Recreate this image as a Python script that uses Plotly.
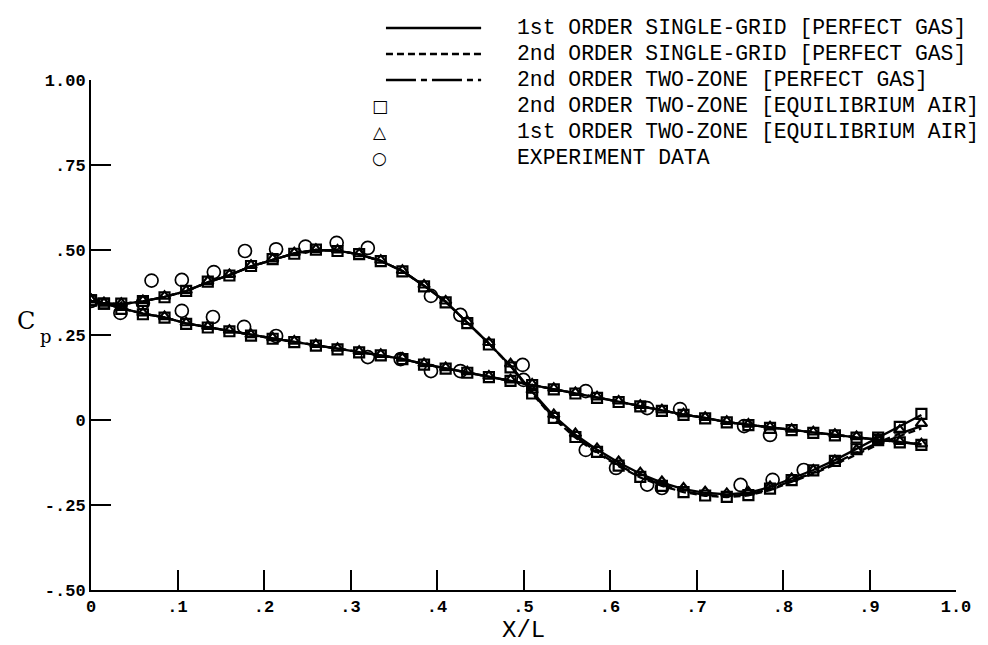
import plotly.graph_objects as go

# ---------------- data ----------------
x_grid = [0.0, 0.015, 0.035, 0.06, 0.085, 0.11, 0.135, 0.16, 0.185, 0.21,
          0.235, 0.26, 0.285, 0.31, 0.335, 0.36, 0.385, 0.41, 0.435, 0.46,
          0.485, 0.51, 0.535, 0.56, 0.585, 0.61, 0.635, 0.66, 0.685, 0.71,
          0.735, 0.76, 0.785, 0.81, 0.835, 0.86, 0.885, 0.91, 0.935, 0.96]

# 1st order single-grid, perfect gas
up_sg1 = [0.350, 0.343, 0.341, 0.349, 0.362, 0.379, 0.405, 0.426, 0.452, 0.472,
          0.490, 0.500, 0.498, 0.487, 0.468, 0.438, 0.395, 0.348, 0.288, 0.225,
          0.160, 0.083, 0.012, -0.043, -0.087, -0.125, -0.158, -0.184, -0.203, -0.214,
          -0.219, -0.214, -0.197, -0.173, -0.147, -0.118, -0.085, -0.050, -0.018, 0.015]
low_sg1 = [0.350, 0.343, 0.329, 0.313, 0.302, 0.284, 0.273, 0.262, 0.249, 0.240,
           0.230, 0.220, 0.209, 0.200, 0.191, 0.180, 0.164, 0.152, 0.140, 0.127,
           0.116, 0.104, 0.091, 0.079, 0.066, 0.054, 0.041, 0.028, 0.016, 0.006,
           -0.006, -0.014, -0.022, -0.029, -0.037, -0.044, -0.051, -0.058, -0.065, -0.072]

# 2nd order single-grid, perfect gas
up_sg2 = [0.350, 0.343, 0.341, 0.349, 0.362, 0.379, 0.405, 0.426, 0.452, 0.472,
          0.490, 0.500, 0.498, 0.487, 0.468, 0.438, 0.395, 0.348, 0.288, 0.225,
          0.158, 0.078, 0.004, -0.052, -0.097, -0.136, -0.169, -0.194, -0.212, -0.223,
          -0.227, -0.222, -0.206, -0.183, -0.158, -0.131, -0.102, -0.072, -0.047, -0.025]
low_sg2 = [0.350, 0.343, 0.329, 0.313, 0.302, 0.284, 0.273, 0.262, 0.249, 0.240,
           0.230, 0.220, 0.209, 0.200, 0.191, 0.180, 0.164, 0.152, 0.140, 0.127,
           0.116, 0.104, 0.091, 0.079, 0.066, 0.054, 0.041, 0.028, 0.016, 0.006,
           -0.006, -0.014, -0.022, -0.029, -0.037, -0.044, -0.051, -0.058, -0.065, -0.071]

# 2nd order two-zone, perfect gas
up_tz2 = [0.350, 0.343, 0.341, 0.349, 0.362, 0.379, 0.405, 0.426, 0.452, 0.472,
          0.490, 0.500, 0.498, 0.487, 0.468, 0.438, 0.395, 0.348, 0.288, 0.225,
          0.159, 0.080, 0.007, -0.049, -0.094, -0.133, -0.166, -0.191, -0.209, -0.220,
          -0.224, -0.219, -0.203, -0.180, -0.155, -0.127, -0.097, -0.066, -0.040, -0.018]
low_tz2 = [0.350, 0.343, 0.329, 0.313, 0.302, 0.284, 0.273, 0.262, 0.249, 0.240,
           0.230, 0.220, 0.209, 0.200, 0.191, 0.180, 0.164, 0.152, 0.140, 0.127,
           0.116, 0.104, 0.091, 0.079, 0.066, 0.054, 0.041, 0.028, 0.016, 0.006,
           -0.006, -0.014, -0.022, -0.029, -0.037, -0.044, -0.051, -0.058, -0.065, -0.072]

# 2nd order two-zone, equilibrium air (squares)
sq_up = [0.352, 0.342, 0.342, 0.350, 0.361, 0.380, 0.407, 0.425, 0.453, 0.473,
         0.489, 0.501, 0.497, 0.488, 0.467, 0.437, 0.393, 0.346, 0.285, 0.222,
         0.155, 0.078, 0.006, -0.050, -0.094, -0.134, -0.167, -0.194, -0.212, -0.222,
         -0.226, -0.221, -0.202, -0.177, -0.148, -0.120, -0.086, -0.052, -0.020, 0.018]
sq_low = [0.352, 0.342, 0.327, 0.311, 0.301, 0.283, 0.272, 0.261, 0.248, 0.239,
          0.229, 0.219, 0.208, 0.199, 0.190, 0.179, 0.163, 0.151, 0.139, 0.126,
          0.115, 0.103, 0.090, 0.078, 0.065, 0.053, 0.040, 0.027, 0.015, 0.005,
          -0.007, -0.015, -0.023, -0.030, -0.038, -0.045, -0.052, -0.059, -0.066, -0.073]

# 1st order two-zone, equilibrium air (triangles)
tri_up = [0.354, 0.344, 0.343, 0.351, 0.364, 0.381, 0.408, 0.428, 0.455, 0.474,
          0.492, 0.502, 0.500, 0.489, 0.470, 0.440, 0.397, 0.350, 0.290, 0.228,
          0.165, 0.088, 0.016, -0.040, -0.084, -0.122, -0.155, -0.181, -0.200, -0.211,
          -0.216, -0.212, -0.196, -0.172, -0.147, -0.119, -0.088, -0.056, -0.030, -0.010]
tri_low = [0.354, 0.345, 0.331, 0.315, 0.304, 0.286, 0.275, 0.264, 0.251, 0.242,
           0.232, 0.222, 0.211, 0.202, 0.193, 0.182, 0.166, 0.154, 0.142, 0.129,
           0.118, 0.106, 0.093, 0.081, 0.068, 0.056, 0.043, 0.030, 0.018, 0.008,
           -0.004, -0.012, -0.020, -0.027, -0.035, -0.042, -0.049, -0.056, -0.063, -0.070]

# experiment data (circles)
exp_up_x = [0.0, 0.06, 0.07, 0.105, 0.142, 0.178, 0.214, 0.248, 0.284, 0.32,
            0.393, 0.427, 0.499, 0.572, 0.607, 0.643, 0.66, 0.751, 0.788, 0.824]
exp_up_y = [0.350, 0.344, 0.410, 0.412, 0.435, 0.497, 0.502, 0.510, 0.521, 0.506,
            0.365, 0.309, 0.162, -0.088, -0.141, -0.190, -0.200, -0.191, -0.176, -0.147]
exp_low_x = [0.034, 0.105, 0.141, 0.177, 0.214, 0.32, 0.358, 0.393, 0.427, 0.5,
             0.572, 0.643, 0.681, 0.755, 0.785]
exp_low_y = [0.315, 0.321, 0.303, 0.274, 0.247, 0.185, 0.179, 0.144, 0.144, 0.118,
             0.085, 0.035, 0.032, -0.018, -0.044]

x_ticks = [0.0, 0.1, 0.2, 0.3, 0.4, 0.5, 0.6, 0.7, 0.8, 0.9, 1.0]
x_ticktext = ["0", ".1", ".2", ".3", ".4", ".5", ".6", ".7", ".8", ".9", "1.0"]
y_ticks = [-0.5, -0.25, 0.0, 0.25, 0.5, 0.75, 1.0]
y_ticktext = ["-.50", "-.25", "0", ".25", ".50", ".75", "1.00"]

legend_labels = ["1st ORDER SINGLE-GRID [PERFECT GAS]",
                 "2nd ORDER SINGLE-GRID [PERFECT GAS]",
                 "2nd ORDER TWO-ZONE [PERFECT GAS]",
                 "2nd ORDER TWO-ZONE [EQUILIBRIUM AIR]",
                 "1st ORDER TWO-ZONE [EQUILIBRIUM AIR]",
                 "EXPERIMENT DATA"]

# ---------------- figure ----------------
FONT = "Liberation Mono"
DASH_SG2 = "7px,4px"
DASH_TZ2 = "30px,5px,6px,5px"


def both(up, low):
    return x_grid + [None] + x_grid, up + [None] + low


fig = go.Figure()
for up, low, dash in [(up_sg1, low_sg1, "solid"),
                      (up_sg2, low_sg2, DASH_SG2),
                      (up_tz2, low_tz2, DASH_TZ2)]:
    xs, ys = both(up, low)
    fig.add_trace(go.Scatter(x=xs, y=ys, mode="lines", connectgaps=False,
                             line=dict(color="black", width=2.3, dash=dash),
                             showlegend=False, hoverinfo="skip"))

xs, ys = both(sq_up, sq_low)
fig.add_trace(go.Scatter(x=xs, y=ys, mode="markers", showlegend=False,
                         marker=dict(symbol="square-open", size=10, color="black",
                                     line=dict(width=2.2, color="black"))))
xs, ys = both(tri_up, tri_low)
fig.add_trace(go.Scatter(x=xs, y=ys, mode="markers", showlegend=False,
                         marker=dict(symbol="triangle-up-open", size=10, color="black",
                                     line=dict(width=2.2, color="black"))))
fig.add_trace(go.Scatter(x=exp_up_x + exp_low_x, y=exp_up_y + exp_low_y,
                         mode="markers", showlegend=False,
                         marker=dict(symbol="circle-open", size=13, color="black",
                                     line=dict(width=1.7, color="black"))))

# custom legend (paper coordinates)
row_y = [1.102, 1.051, 1.000, 0.949, 0.898, 0.847]
line_x0, line_x1 = 0.341, 0.451
glyph_x = 0.334
text_x = 0.490
shapes = []
for i, dash in enumerate(["solid", DASH_SG2, DASH_TZ2]):
    shapes.append(dict(type="line", xref="paper", yref="paper",
                       x0=line_x0, x1=line_x1, y0=row_y[i], y1=row_y[i],
                       line=dict(color="black", width=2.5, dash=dash)))

annotations = []
for i, lab in enumerate(legend_labels):
    annotations.append(dict(text=lab, xref="paper", yref="paper", x=text_x, y=row_y[i],
                            xanchor="left", yanchor="middle", showarrow=False,
                            font=dict(family=FONT, size=21.4, color="black")))
for i, g in zip([3, 4, 5], ["\u25a1", "\u25b3", "\u25cb"]):
    annotations.append(dict(text=g, xref="paper", yref="paper", x=glyph_x, y=row_y[i],
                            xanchor="center", yanchor="middle", showarrow=False,
                            font=dict(family="DejaVu Sans", size=17, color="black")))

annotations.append(dict(text="X/L", xref="paper", yref="paper", x=0.5, y=-0.08,
                        xanchor="center", yanchor="middle", showarrow=False,
                        font=dict(family=FONT, size=24, color="black")))
annotations.append(dict(text="C", xref="paper", yref="y", x=-0.075, y=0.29,
                        xanchor="center", yanchor="middle", showarrow=False,
                        font=dict(family="DejaVu Serif", size=24, color="black")))
annotations.append(dict(text="p", xref="paper", yref="y", x=-0.052, y=0.245,
                        xanchor="center", yanchor="middle", showarrow=False,
                        font=dict(family="DejaVu Serif", size=18, color="black")))

fig.update_layout(
    width=988, height=645,
    margin=dict(l=83, r=40, t=72, b=63),
    plot_bgcolor="white", paper_bgcolor="white",
    shapes=shapes, annotations=annotations,
    showlegend=False,
    xaxis=dict(range=[0, 1], tickvals=x_ticks, ticktext=x_ticktext,
               showgrid=False, zeroline=False, showline=True, linecolor="black",
               linewidth=2, ticks="inside", ticklen=20, tickwidth=1.5, tickcolor="black",
               tickfont=dict(family=FONT, size=17, color="black", weight="bold")),
    yaxis=dict(range=[-0.5, 1.0], tickvals=y_ticks, ticktext=y_ticktext,
               showgrid=False, zeroline=False, showline=True, linecolor="black",
               linewidth=2, ticks="inside", ticklen=20, tickwidth=1.5, tickcolor="black",
               tickfont=dict(family=FONT, size=17, color="black", weight="bold")),
)

fig.write_html("out.html")
